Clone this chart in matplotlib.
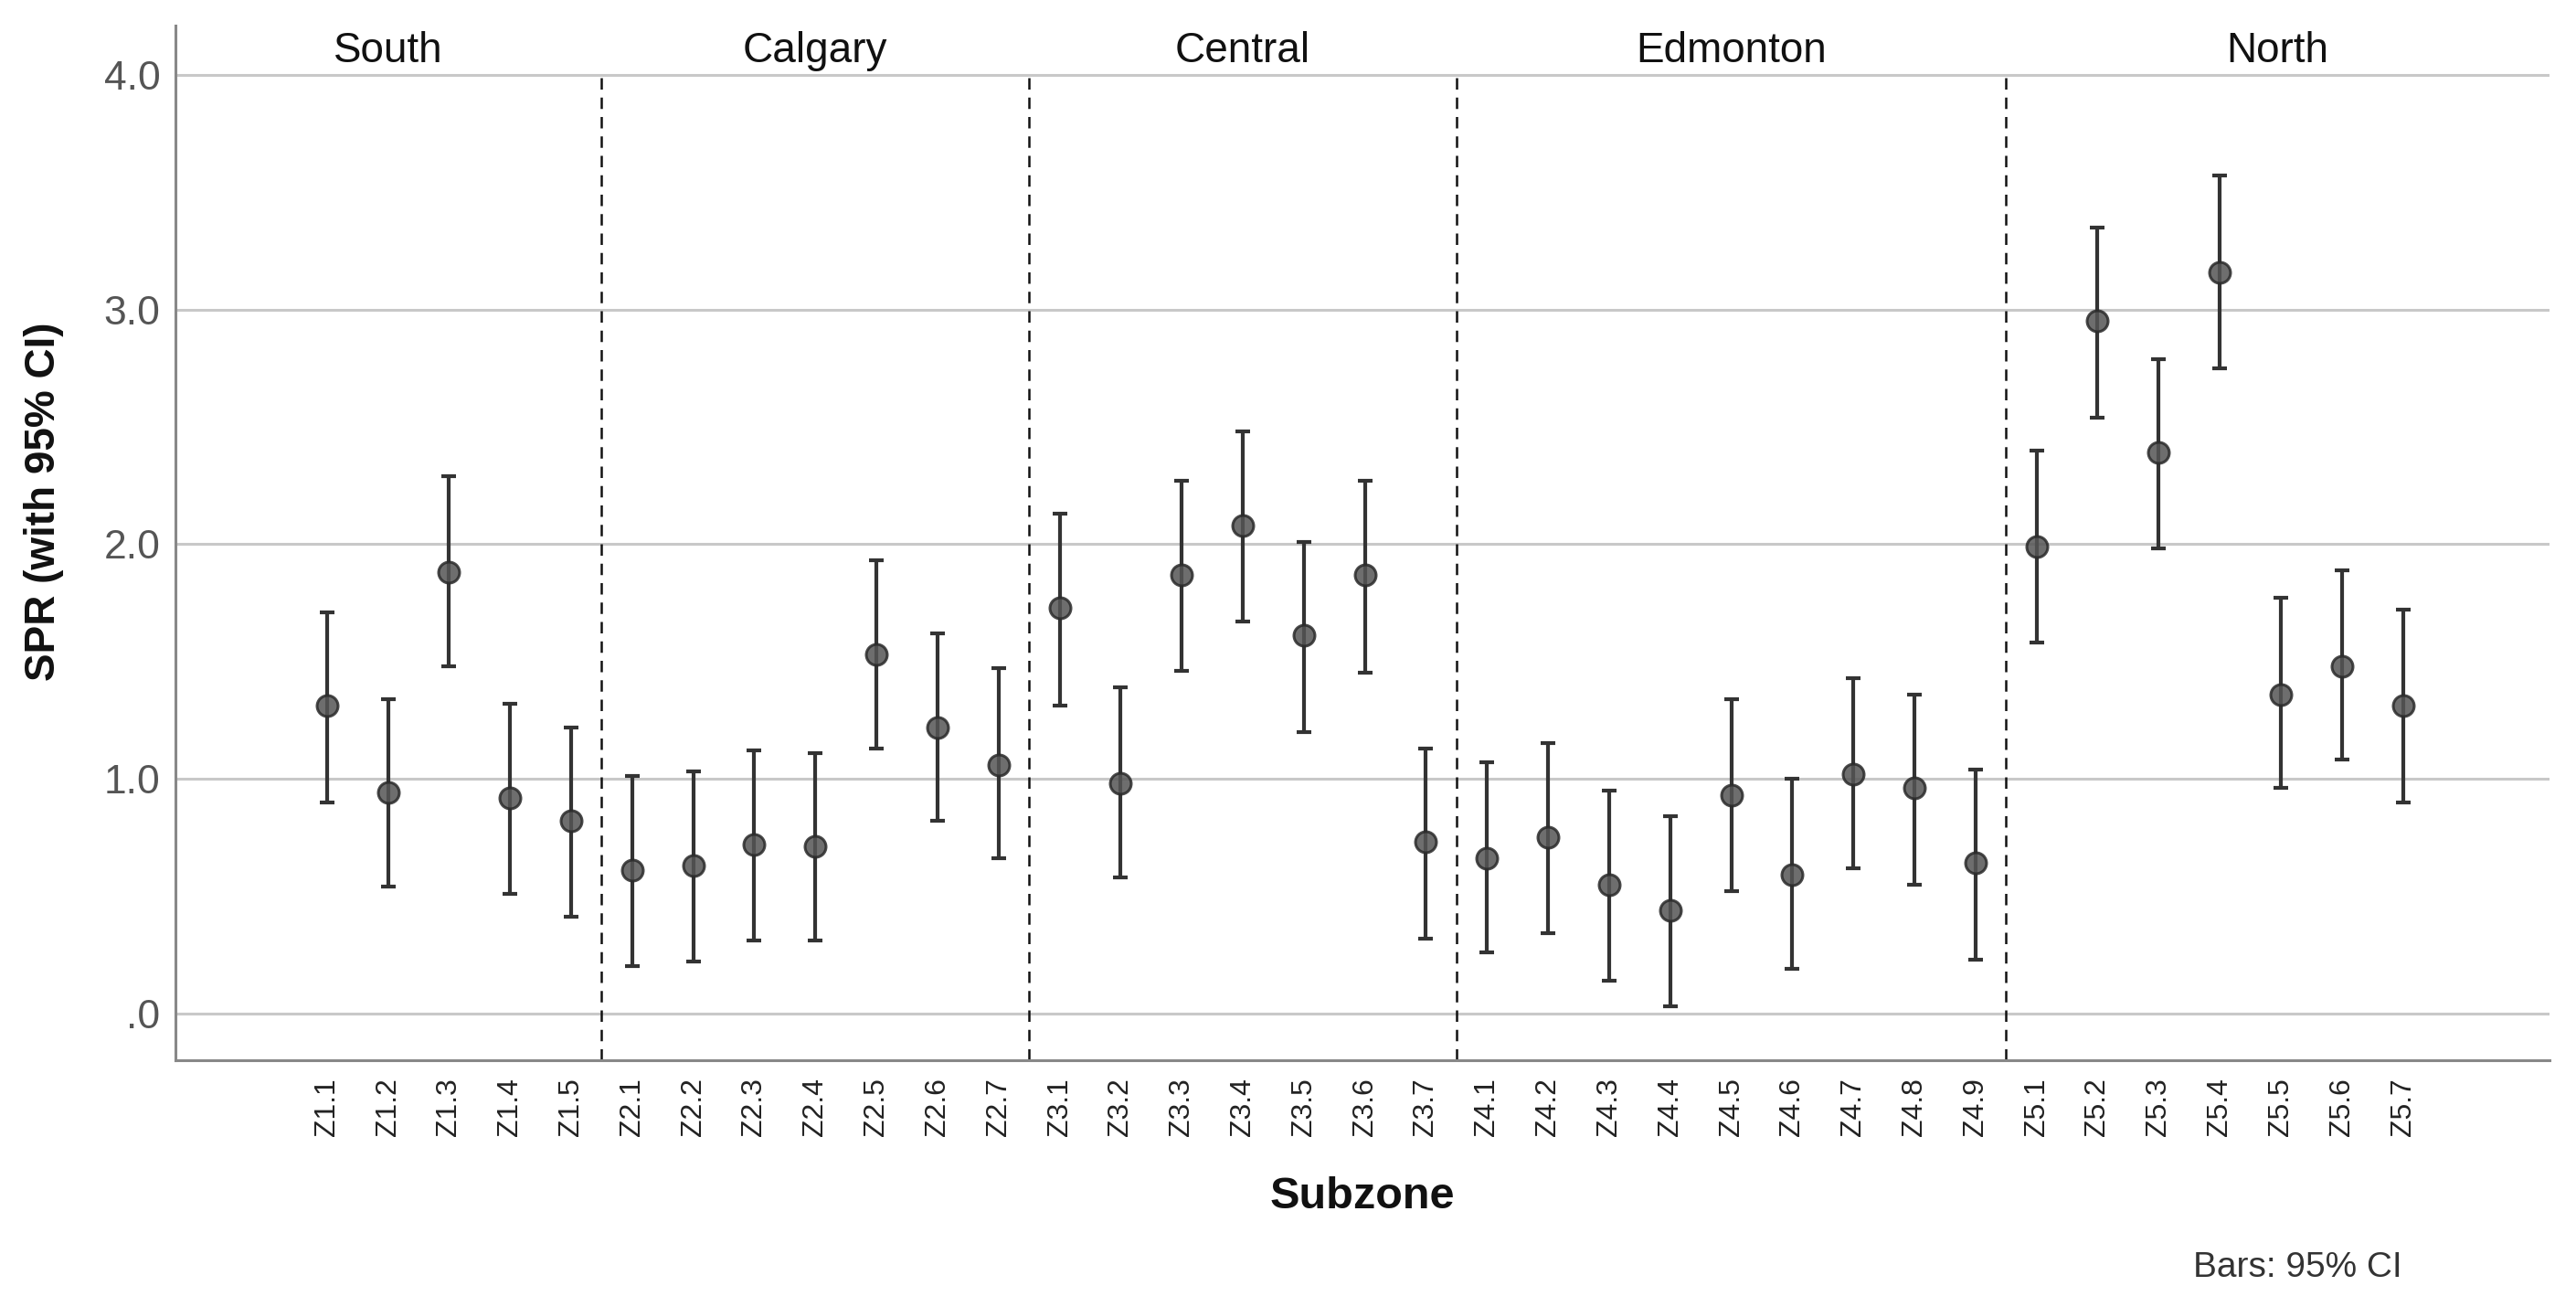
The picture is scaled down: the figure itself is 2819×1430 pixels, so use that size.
import matplotlib.pyplot as plt
import numpy as np

# --- Data ---
SUBZONES = [
    "Z1.1", "Z1.2", "Z1.3", "Z1.4", "Z1.5",
    "Z2.1", "Z2.2", "Z2.3", "Z2.4", "Z2.5", "Z2.6", "Z2.7",
    "Z3.1", "Z3.2", "Z3.3", "Z3.4", "Z3.5", "Z3.6", "Z3.7",
    "Z4.1", "Z4.2", "Z4.3", "Z4.4", "Z4.5", "Z4.6", "Z4.7", "Z4.8", "Z4.9",
    "Z5.1", "Z5.2", "Z5.3", "Z5.4", "Z5.5", "Z5.6", "Z5.7",
]
SPR = [
    1.31, 0.94, 1.88, 0.92, 0.82,
    0.61, 0.63, 0.72, 0.71, 1.53, 1.22, 1.06,
    1.73, 0.98, 1.87, 2.08, 1.61, 1.87, 0.73,
    0.66, 0.75, 0.55, 0.44, 0.93, 0.59, 1.02, 0.96, 0.64,
    1.99, 2.95, 2.39, 3.16, 1.36, 1.48, 1.31,
]
CI_LOW = [
    0.90, 0.54, 1.48, 0.51, 0.41,
    0.20, 0.22, 0.31, 0.31, 1.13, 0.82, 0.66,
    1.31, 0.58, 1.46, 1.67, 1.20, 1.45, 0.32,
    0.26, 0.34, 0.14, 0.03, 0.52, 0.19, 0.62, 0.55, 0.23,
    1.58, 2.54, 1.98, 2.75, 0.96, 1.08, 0.90,
]
CI_HIGH = [
    1.71, 1.34, 2.29, 1.32, 1.22,
    1.01, 1.03, 1.12, 1.11, 1.93, 1.62, 1.47,
    2.13, 1.39, 2.27, 2.48, 2.01, 2.27, 1.13,
    1.07, 1.15, 0.95, 0.84, 1.34, 1.00, 1.43, 1.36, 1.04,
    2.40, 3.35, 2.79, 3.57, 1.77, 1.89, 1.72,
]
ZONES = ["South", "Calgary", "Central", "Edmonton", "North"]
ZONE_SIZES = [5, 7, 7, 9, 7]
Y_TICKS = [0, 1, 2, 3, 4]
Y_TICK_LABELS = [".0", "1.0", "2.0", "3.0", "4.0"]

TEXT_FONT = ["Liberation Sans", "Arial", "DejaVu Sans"]


def main():
    x = np.arange(len(SUBZONES))
    spr = np.array(SPR)
    yerr = [spr - np.array(CI_LOW), np.array(CI_HIGH) - spr]

    fig = plt.figure(figsize=(28.19, 14.30), dpi=100)
    ax = fig.add_axes([0.0681, 0.1888, 0.9216, 0.7916])

    xlim = (-2.48, len(SUBZONES) - 1 + 2.4)
    ax.set_xlim(*xlim)
    ax.set_ylim(-0.2, 4.21)

    # horizontal grid at the tick values
    for yv in Y_TICKS:
        ax.axhline(yv, color="#c8c8c8", lw=2.2, zorder=0)

    # zone dividers
    bounds = np.cumsum(ZONE_SIZES)[:-1] - 0.5
    for b in bounds:
        ax.plot([b, b], [-0.2, 4.0], color="#111111", lw=1.8,
                linestyle=(0, (5, 3.5)), zorder=1)

    # zone labels centred in each section
    edges = [xlim[0]] + list(bounds) + [xlim[1]]
    for i, zone in enumerate(ZONES):
        ax.text((edges[i] + edges[i + 1]) / 2, 4.10, zone, ha="center",
                va="center", fontsize=33, family=TEXT_FONT, color="#111111")

    ax.errorbar(x, spr, yerr=yerr, fmt="none", ecolor="#333333",
                elinewidth=3.0, capsize=6, capthick=3.0, zorder=3)
    ax.plot(x, spr, "o", markersize=16.5, markerfacecolor="#555555",
            markeredgecolor="#2a2a2a", markeredgewidth=2.2, alpha=0.85,
            zorder=4)

    ax.set_xticks(x)
    ax.set_xticklabels(SUBZONES, rotation=90, fontsize=23, family=TEXT_FONT,
                       color="#222222")
    ax.set_yticks(Y_TICKS)
    ax.set_yticklabels(Y_TICK_LABELS, fontsize=32, family=TEXT_FONT,
                       color="#555555")
    ax.tick_params(axis="both", length=0)
    ax.tick_params(axis="x", pad=14)
    ax.tick_params(axis="y", pad=12)

    for side in ["top", "right"]:
        ax.spines[side].set_visible(False)
    for side in ["left", "bottom"]:
        ax.spines[side].set_color("#888888")
        ax.spines[side].set_linewidth(2.2)

    ax.set_ylabel("SPR (with 95% CI)", fontsize=33, fontweight="bold",
                  family=TEXT_FONT, color="#111111")
    ax.yaxis.set_label_coords(-0.047, 0.54)
    ax.set_xlabel("Subzone", fontsize=35, fontweight="bold",
                  family=TEXT_FONT, color="#111111")
    ax.xaxis.set_label_coords(0.5, -0.112)

    fig.text(0.892, 0.030, "Bars: 95% CI", ha="center", va="center",
             fontsize=28, family=TEXT_FONT, color="#333333")

    fig.savefig("out.png", dpi=100, facecolor="white")
    plt.close(fig)


if __name__ == "__main__":
    main()
